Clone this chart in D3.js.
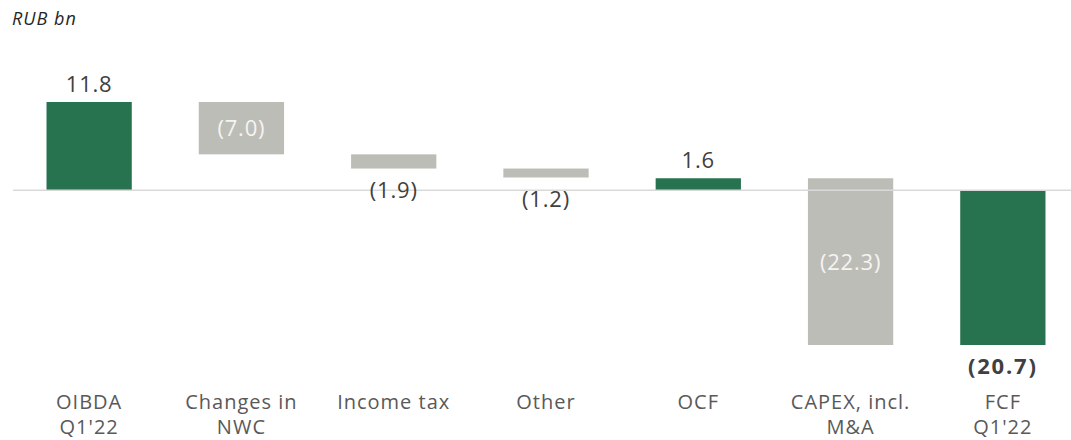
<!DOCTYPE html>
<html lang="en">
<head>
<meta charset="UTF-8">
<title>FCF Q1'22</title>
<script src="https://cdn.jsdelivr.net/npm/d3@7"></script>
<style>
  body { margin: 0; background: #fff; }
  svg text { font-family: "Open Sans", "Noto Sans", sans-serif; }
</style>
</head>
<body>
<svg id="chart" width="1071" height="440"></svg>
<script>
// data
var categories = ["OIBDA|Q1'22", "Changes in|NWC", "Income tax", "Other", "OCF", "CAPEX, incl.|M&A", "FCF|Q1'22"]
var values = [11.8, -7.0, -1.9, -1.2, 1.6, -22.3, -20.7]
var isTotal = [true, false, false, false, true, false, true]
var valueLabels = ["11.8", "(7.0)", "(1.9)", "(1.2)", "1.6", "(22.3)", "(20.7)"]
var labelPlace = ["above", "inside", "below", "below", "above", "inside", "below"]

var W = 1071, H = 440
var svg = d3.select('#chart')

// build waterfall segments, totals (OCF / FCF) restart from their reported value
var run = 0
var bars = values.map(function (v, i) {
  var y0, y1
  if (isTotal[i]) {
    y0 = 0; y1 = v
    run = v
  } else {
    y0 = run; y1 = run + v
    run = y1
  }
  return { cat: categories[i], v: v, y0: y0, y1: y1, total: isTotal[i], label: valueLabels[i], place: labelPlace[i] }
})

var x = d3.scaleBand().domain(categories).range([13, 1079]).paddingInner(0.44).paddingOuter(0.22)
var y = d3.scaleLinear().domain([-20.7, 11.8]).range([345, 102])

var green = '#277350', grey = '#bdbdb8'

svg.append('text')
  .attr('x', 12).attr('y', 25)
  .attr('font-size', 18).attr('font-style', 'italic').attr('fill', '#262626')
  .attr('letter-spacing', 1)
  .text('RUB bn')

svg.selectAll('rect.bar').data(bars).enter().append('rect')
  .attr('class', 'bar')
  .attr('x', function (d) { return x(d.cat) })
  .attr('width', x.bandwidth())
  .attr('y', function (d) { return y(Math.max(d.y0, d.y1)) })
  .attr('height', function (d) { return Math.abs(y(d.y0) - y(d.y1)) })
  .attr('fill', function (d) { return d.total ? green : grey })

// zero line
svg.append('line')
  .attr('x1', 13).attr('x2', W)
  .attr('y1', y(0)).attr('y2', y(0))
  .attr('stroke', '#d9d9d9').attr('stroke-width', 1.5)

svg.selectAll('text.val').data(bars).enter().append('text')
  .attr('class', 'val')
  .attr('text-anchor', 'middle')
  .attr('x', function (d) { return x(d.cat) + x.bandwidth() / 2 })
  .attr('y', function (d) {
    var top = y(Math.max(d.y0, d.y1)), bot = y(Math.min(d.y0, d.y1))
    if (d.place === 'above') return top - 10
    if (d.place === 'below') return bot + 29
    return (top + bot) / 2 + 8
  })
  .attr('font-size', 22)
  .attr('letter-spacing', function (d, i) { return i === bars.length - 1 ? 1.8 : 0.8 })
  .attr('font-weight', function (d, i) { return i === bars.length - 1 ? 700 : 400 })
  .attr('fill', function (d) { return d.place === 'inside' ? '#f4f4f2' : '#404040' })
  .text(function (d) { return d.label })

// category labels
var cl = svg.selectAll('text.cat').data(categories).enter().append('text')
  .attr('class', 'cat')
  .attr('text-anchor', 'middle')
  .attr('x', function (d) { return x(d) + x.bandwidth() / 2 })
  .attr('y', 409)
  .attr('font-size', 20)
  .attr('letter-spacing', 1)
  .attr('fill', '#595959')
cl.selectAll('tspan').data(function (d) { return d.split('|') }).enter().append('tspan')
  .attr('x', function () { return d3.select(this.parentNode).attr('x') })
  .attr('dy', function (d, i) { return i ? 25 : 0 })
  .text(function (d) { return d })
</script>
</body>
</html>
